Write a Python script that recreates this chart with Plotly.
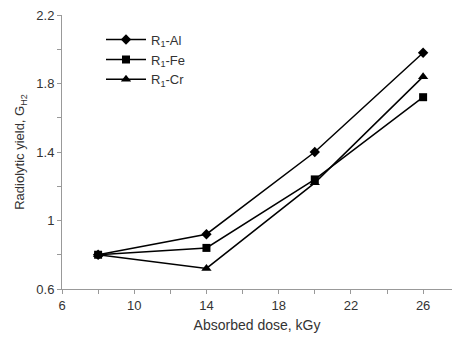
import plotly.graph_objects as go

# absorbed dose (kGy) and radiolytic yield G_H2
dose = [8, 14, 20, 26]
al = [0.80, 0.92, 1.40, 1.98]
fe = [0.80, 0.84, 1.24, 1.72]
cr = [0.80, 0.72, 1.22, 1.84]

series = [
    ("R<sub>1</sub>-Al", al, "diamond", 8),
    ("R<sub>1</sub>-Fe", fe, "square", 8),
    ("R<sub>1</sub>-Cr", cr, "triangle-up", 9),
]

fig = go.Figure()
for name, ys, sym, sz in series:
    fig.add_trace(go.Scatter(
        x=dose, y=ys, name=name, mode="lines+markers",
        line=dict(color="black", width=1.5),
        marker=dict(symbol=sym, size=sz, color="black"),
    ))

axis_style = dict(
    showline=True, linecolor="#999", linewidth=1,
    ticks="outside", ticklen=4, tickcolor="#999",
    showgrid=False, zeroline=False, automargin=False,
    tickfont=dict(size=13, color="#333"),
    minor=dict(ticks="outside", ticklen=4, tickcolor="#999"),
)

fig.update_xaxes(range=[6, 27.6], tick0=6, dtick=4, minor_dtick=2,
                 title=dict(text="Absorbed dose, kGy", font=dict(size=14, color="#333"), standoff=8),
                 **axis_style)
fig.update_yaxes(range=[0.6, 2.2], tick0=0.6, dtick=0.4, minor_dtick=0.2,
                 title=dict(text="Radiolytic yield, G<sub>H2</sub>", font=dict(size=13, color="#333"), standoff=8),
                 **axis_style)

fig.update_layout(
    width=452, height=338,
    margin=dict(l=62, r=0, t=15, b=49),
    paper_bgcolor="white", plot_bgcolor="white",
    font=dict(family="Liberation Sans, Arial, sans-serif", color="#333"),
    legend=dict(x=0.1, y=0.965, xanchor="left", yanchor="top",
                bgcolor="rgba(0,0,0,0)", font=dict(size=13), tracegroupgap=0,
                itemwidth=40),
)

fig.write_html("out.html", config={"displayModeBar": False},
               post_script="document.body.style.margin='0';")
